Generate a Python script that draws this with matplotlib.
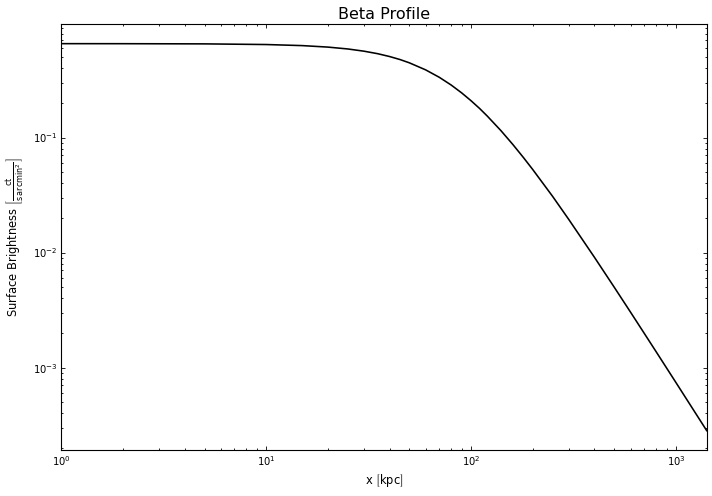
import matplotlib
matplotlib.use("Agg")
import matplotlib.pyplot as plt

# -------------------------------------------------
# Values
# -------------------------------------------------
radius_kpc = [1, 2, 5, 10, 15, 20, 25, 30, 35, 40, 45, 50, 60, 70, 80,
              90, 100, 110, 120, 140, 160, 180, 200, 250, 300, 400, 500,
              600, 700, 800, 1000, 1200, 1413]
brightness = [0.655, 0.6545, 0.6521, 0.6436, 0.6299, 0.6114, 0.5891,
              0.5634, 0.5358, 0.5063, 0.4765, 0.4461, 0.3876, 0.3338,
              0.2859, 0.2443, 0.2088, 0.1791, 0.1536, 0.1146, 0.0869,
              0.0671, 0.0527, 0.0308, 0.01937, 0.00910, 0.00499,
              0.003036, 0.001987, 0.001375, 0.000741, 0.000446, 0.000283]

# -------------------------------------------------
# Plot
# -------------------------------------------------
fig = plt.figure(figsize=(7.12, 4.96), dpi=100)
ax = fig.add_axes([0.0861, 0.0927, 0.9065, 0.8583])

ax.plot(radius_kpc, brightness, color="black", lw=1.15)
ax.set_xscale("log")
ax.set_yscale("log")
ax.set_xlim(radius_kpc[0], radius_kpc[-1])

ax.set_title("Beta Profile", fontsize=11.5, pad=3.8)
ax.set_xlabel(r"x $\left[\mathrm{kpc}\right]$", fontsize=8.3, labelpad=3)
ax.set_ylabel(r"Surface Brightness $\left[\frac{\mathrm{ct}}{\mathrm{s\,arcmin^2}}\right]$",
              fontsize=8.3)

ax.tick_params(which="both", direction="in", top=True, right=True,
               labelsize=7.2, width=0.6)
ax.tick_params(which="major", length=3.2, pad=3)
ax.tick_params(which="minor", length=1.6)
for s in ax.spines.values():
    s.set_linewidth(0.8)

fig.savefig("out.png", dpi=100)
